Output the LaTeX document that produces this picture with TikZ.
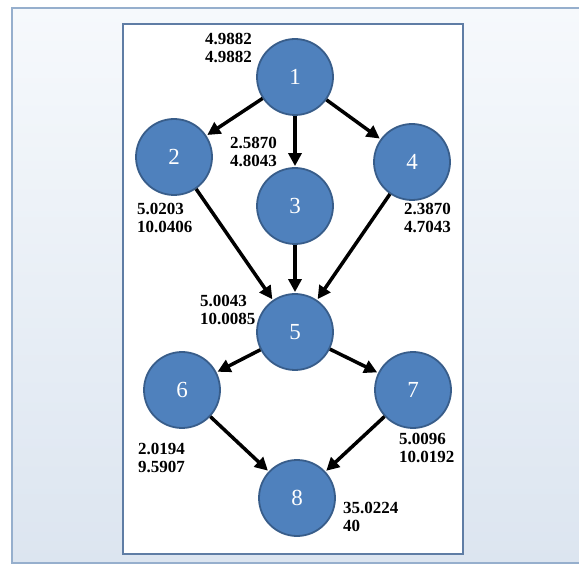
\documentclass[tikz,border=0pt]{standalone}
\usepackage{fontspec}
\setmainfont{Liberation Serif}
\usetikzlibrary{arrows.meta}
\definecolor{nodefill}{RGB}{79,129,189}
\definecolor{nodeline}{RGB}{56,93,138}
\definecolor{frameline}{RGB}{150,175,205}
\definecolor{innerline}{RGB}{95,125,165}
\definecolor{bgtop}{RGB}{246,249,252}
\definecolor{bgbot}{RGB}{220,229,240}
\tikzset{
  vtx/.style={circle, fill=nodefill, draw=nodeline, line width=1.8pt, minimum size=76pt, inner sep=0pt,
              text=white, font=\fontsize{23}{25}\selectfont},
  val/.style={anchor=north west, align=left, inner sep=0pt, font=\fontsize{17}{18}\bfseries\selectfont},
  arr/.style={-{Triangle[length=13pt,width=13pt]}, line width=3.5pt, black, shorten >=1pt}
}
\begin{document}
\begin{tikzpicture}[x=1pt,y=-1pt]
\useasboundingbox (0,0) rectangle (579,572);
\fill[white] (0,0) rectangle (579,572);
\shade[top color=bgtop, bottom color=bgbot] (12,8) rectangle (590,563);
\draw[frameline, line width=1.5pt] (590,8) -- (12,8) -- (12,563) -- (590,563);
\draw[innerline, line width=1.5pt, fill=white] (123,24) rectangle (463,554);

\node[vtx] (n1) at (295,77) {1};
\node[vtx] (n2) at (174,157) {2};
\node[vtx] (n3) at (295,206) {3};
\node[vtx] (n4) at (412,162) {4};
\node[vtx] (n5) at (295,332) {5};
\node[vtx] (n6) at (182,390) {6};
\node[vtx] (n7) at (413,390) {7};
\node[vtx] (n8) at (297,498) {8};

\draw[arr] (n1) -- (n2);
\draw[arr] (n1) -- (n3);
\draw[arr] (n1) -- (n4);
\draw[arr] (n2) -- (n5);
\draw[arr] (n3) -- (n5);
\draw[arr] (n4) -- (n5);
\draw[arr] (n5) -- (n6);
\draw[arr] (n5) -- (n7);
\draw[arr] (n6) -- (n8);
\draw[arr] (n7) -- (n8);

\node[val] (l1) at (205,33) {4.9882\\4.9882};
\node[val] (l3) at (230,137) {2.5870\\4.8043};
\node[val] (l2) at (137,203) {5.0203\\10.0406};
\node[val] (l4) at (404,203) {2.3870\\4.7043};
\node[val] (l5) at (200,295) {5.0043\\10.0085};
\node[val] (l6) at (138,443) {2.0194\\9.5907};
\node[val] (l7) at (399,433) {5.0096\\10.0192};
\node[val] (l8) at (343,502) {35.0224\\40};
\end{tikzpicture}
\end{document}
